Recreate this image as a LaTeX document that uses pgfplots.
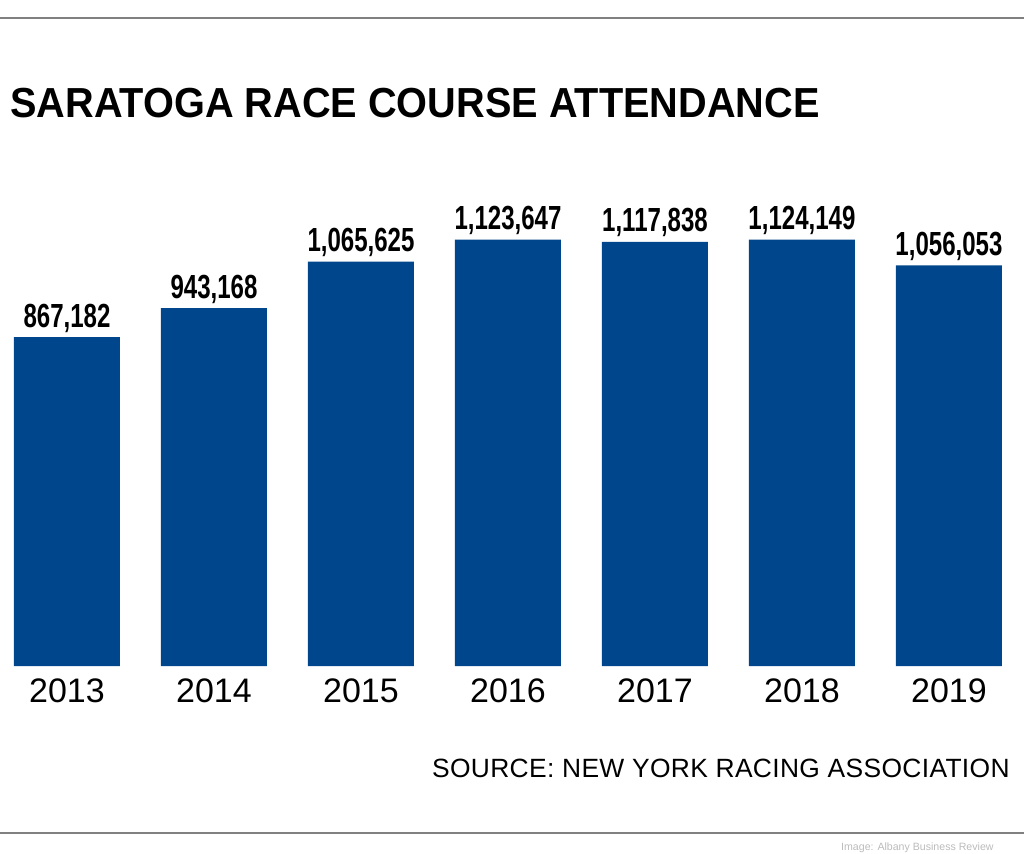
\documentclass[border=0pt]{standalone}
\usepackage{pgfplots}
\pgfplotsset{compat=1.18}
\usepackage{fontspec}
\setmainfont{Liberation Sans}
\newfontfamily\condfont[FakeStretch=0.72]{Liberation Sans Bold}
\newfontfamily\titlefont[FakeStretch=0.945]{Liberation Sans Bold}
\newfontfamily\srcfont[LetterSpace=1.3]{Liberation Sans}
\definecolor{barblue}{HTML}{00468C}
\definecolor{rulegray}{HTML}{808080}
\definecolor{creditgray}{HTML}{BBBBBB}
\begin{document}
\begin{tikzpicture}[x=1pt,y=1pt]
\path[use as bounding box] (0,0) rectangle (512,426.5);
\draw[rulegray, line width=1pt] (0,417.5) -- (512,417.5);
\draw[rulegray, line width=1pt] (0,10) -- (512,10);
\node[anchor=base west, inner sep=0, font=\fontsize{21}{24}\titlefont] at (5,367.5) {SARATOGA RACE COURSE ATTENDANCE};
\begin{axis}[
  at={(-3.25pt,93.5pt)}, anchor=south west,
  scale only axis,
  width=514.5pt, height=246.6pt,
  xmin=-0.5, xmax=6.5, ymin=0, ymax=1300000,
  axis lines=none,
  clip=false,
  ybar, bar width=53pt,
  xtick=data,
  xticklabels={2013,2014,2015,2016,2017,2018,2019},
  nodes near coords={\pgfmathprintnumber[fixed,precision=0,1000 sep={,},assume math mode=true]{\pgfplotspointmeta}},
  nodes near coords style={anchor=base, inner sep=0, yshift=5pt, font=\fontsize{16.7}{18}\condfont},
]
\addplot[fill=barblue, draw=none] coordinates {
(0,867182) (1,943168) (2,1065625) (3,1123647) (4,1117838) (5,1124149) (6,1056053)
};
\end{axis}
\foreach \i/\yr in {0/2013,1/2014,2/2015,3/2016,4/2017,5/2018,6/2019} {
  \node[anchor=base, inner sep=0, font=\fontsize{17}{20}\selectfont] at (33.5+73.5*\i,75.5) {\yr};
}
\node[anchor=base east, inner sep=0, font=\fontsize{13.2}{15}\srcfont] at (505,38) {SOURCE: NEW YORK RACING ASSOCIATION};
\node[anchor=base east, inner sep=0, text=creditgray, font=\fontsize{5.3}{6}\selectfont] at (497,1.5) {Image: Albany Business Review};
\end{tikzpicture}
\end{document}
